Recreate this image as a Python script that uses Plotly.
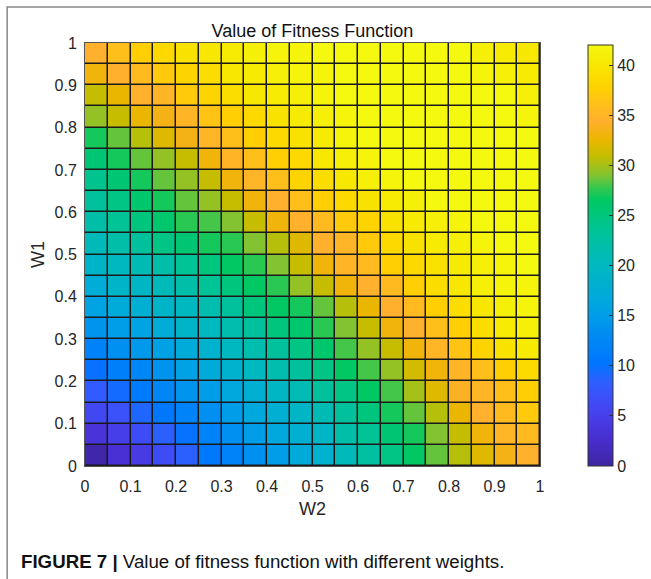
import plotly.graph_objects as go

# W2 (x) and W1 (y) cell centres: 20 x 20 grid, 0.05 step
w2 = [round(0.025 + 0.05 * i, 3) for i in range(20)]
w1 = [round(0.025 + 0.05 * i, 3) for i in range(20)]

# fitness values, rows = W1 from 0 (bottom) to 0.95 (top), cols = W2 from 0 to 0.95
r00 = [0.5, 3, 4.5, 6.5, 8.5, 10.5, 12, 13.5, 15, 17, 18.5, 20.5, 22.5, 24.5, 26.5, 28.5, 30.5, 32, 33.5, 34.5]
r01 = [3.5, 5, 6.5, 8.5, 10, 12, 13.5, 15, 16.5, 18, 19.5, 22, 23.5, 25.5, 27, 29, 31, 33, 35, 35.5]
r02 = [6, 7, 9, 10.5, 12, 13.5, 15, 16.5, 18, 19.5, 21, 23, 25, 27, 28.5, 30.5, 32.5, 34.5, 35.5, 37]
r03 = [8, 9.5, 11, 12.5, 14, 15, 16.5, 18, 19.5, 21, 23, 24.5, 26.5, 28, 30, 32, 34, 35, 36, 37.5]
r04 = [10, 11.5, 12.5, 14, 15.5, 17, 18.5, 20, 21.5, 23, 24.5, 26.5, 28, 29.5, 31.5, 33, 35, 36, 37.5, 38.5]
r05 = [12, 13.5, 14.5, 15.5, 17, 18.5, 20, 21.5, 23, 24.5, 26, 28, 29.5, 31, 33, 35, 36.5, 38, 39.5, 40.5]
r06 = [14, 15, 16, 17.5, 19, 20, 21.5, 23, 25, 26, 27.5, 29, 31, 33, 34.5, 36, 37.5, 39, 40.5, 41]
r07 = [16, 17, 18, 19, 20, 21.5, 23, 25, 26.5, 27, 28.5, 30.5, 32.5, 34.5, 35.5, 37.5, 39, 40, 41, 41.5]
r08 = [17.5, 19, 19.5, 20.5, 22, 23.5, 25, 26.5, 27.5, 29.5, 31, 33, 34.5, 35.5, 37.5, 39, 40, 41, 41.5, 41.5]
r09 = [19, 20, 21, 22, 23.5, 25, 26.5, 27.5, 29, 31, 33, 35, 35.5, 37.5, 38.5, 39.5, 40.5, 41, 41.5, 42]
r10 = [20.5, 22, 23, 24.5, 25.5, 27, 27.5, 29, 30.5, 32, 34.5, 35, 37, 38.5, 39.5, 40.5, 41, 41.5, 42, 42]
r11 = [22, 23.5, 25, 26, 27.5, 28, 29, 31, 33, 34.5, 35.5, 37, 38, 39.5, 40.5, 41, 41.5, 42, 42, 42]
r12 = [23, 24.5, 26, 27, 28.5, 29.5, 31, 33, 34.5, 36, 37.5, 38.5, 39.5, 40.5, 41, 42, 42, 42, 42, 42]
r13 = [24, 25.5, 27, 28.5, 29.5, 31, 33, 35, 36, 38, 39, 40, 41, 41.5, 42, 42, 42, 42, 42, 42]
r14 = [25.5, 27, 28.5, 29.5, 31, 33, 35, 36, 37.5, 38.5, 40, 41, 41.5, 42, 42, 42, 42, 42, 42, 42]
r15 = [27, 28.5, 30.5, 32, 33.5, 35, 36, 37.5, 38.5, 39.5, 40.5, 41.5, 42, 42, 42, 42, 42, 42, 42, 42]
r16 = [29.5, 31, 32.5, 33.5, 35, 36.5, 37.5, 38.5, 39.5, 40.5, 41, 41.5, 42, 42, 42, 42, 42, 42, 42, 41.5]
r17 = [31, 32.5, 34.5, 35, 37, 38, 39, 40, 40.5, 41, 41.5, 42, 42, 42, 42, 42, 42, 42, 42, 41]
r18 = [33, 34.5, 35.5, 37, 38, 39, 40, 40.5, 41, 41.5, 41.5, 42, 42, 42, 42, 42, 42, 41.5, 41, 40.5]
r19 = [34.5, 36, 37.5, 38.5, 39.5, 40, 40.5, 41, 41.5, 41.5, 42, 42, 42, 42, 42, 42, 42, 41, 40.5, 40]
fitness = [r00, r01, r02, r03, r04, r05, r06, r07, r08, r09,
           r10, r11, r12, r13, r14, r15, r16, r17, r18, r19]

tick_vals = [0, 0.1, 0.2, 0.3, 0.4, 0.5, 0.6, 0.7, 0.8, 0.9, 1]
tick_text = ["0", "0.1", "0.2", "0.3", "0.4", "0.5", "0.6", "0.7", "0.8", "0.9", "1"]
cbar_ticks = [0, 5, 10, 15, 20, 25, 30, 35, 40]

parula_like = [
    [0.00, "rgb(62,38,160)"],
    [0.06, "rgb(72,45,205)"],
    [0.11, "rgb(72,60,230)"],
    [0.165, "rgb(60,80,250)"],
    [0.20, "rgb(45,95,255)"],
    [0.245, "rgb(0,118,255)"],
    [0.30, "rgb(0,135,245)"],
    [0.35, "rgb(0,155,235)"],
    [0.40, "rgb(0,170,220)"],
    [0.48, "rgb(0,185,190)"],
    [0.56, "rgb(0,195,150)"],
    [0.63, "rgb(0,200,100)"],
    [0.66, "rgb(50,200,80)"],
    [0.69, "rgb(130,195,50)"],
    [0.735, "rgb(195,190,0)"],
    [0.775, "rgb(235,182,0)"],
    [0.82, "rgb(255,175,45)"],
    [0.86, "rgb(255,192,25)"],
    [0.90, "rgb(255,210,0)"],
    [0.95, "rgb(248,230,0)"],
    [1.00, "rgb(245,248,15)"],
]

W, H = 651, 579
L, R, T, B = 85, 541, 43, 466
pw, ph = R - L, B - T

def px(x):
    return (x - L) / pw

def py(y):
    return (B - y) / ph

txt = "#262626"
font = "Liberation Sans, Arial, sans-serif"

fig = go.Figure(go.Heatmap(
    x=w2, y=w1, z=fitness,
    zmin=0, zmax=42,
    colorscale=parula_like,
    xgap=1.5, ygap=1.5,
    colorbar=dict(
        x=px(588), xanchor="left", xpad=0,
        y=0, yanchor="bottom", ypad=0,
        len=(B - 45) / ph, lenmode="fraction",
        thickness=25, thicknessmode="pixels",
        outlinewidth=1, outlinecolor="#333333",
        tickvals=cbar_ticks, ticks="inside", ticklen=4,
        tickcolor="#333333", tickfont=dict(size=16, color=txt, family=font),
    ),
))

fig.update_layout(
    width=W, height=H,
    margin=dict(l=L, r=W - R, t=T, b=H - B),
    paper_bgcolor="white",
    plot_bgcolor="#1a1a1a",
    font=dict(family=font, color=txt, size=16),
    title=dict(text="Value of Fitness Function", x=px((L + R) / 2), xref="paper",
               xanchor="center", y=1 - 31 / H, yref="container", yanchor="middle",
               font=dict(size=18, color="#111111", family=font)),
    xaxis=dict(range=[0, 1], tickvals=tick_vals, ticktext=tick_text, showgrid=False,
               zeroline=False, showline=True, linecolor="#555555", linewidth=1, mirror=True,
               ticks="", ticklabelstandoff=6, tickfont=dict(size=16, color=txt)),
    yaxis=dict(range=[0, 1], tickvals=tick_vals, ticktext=tick_text, showgrid=False,
               zeroline=False, showline=True, linecolor="#555555", linewidth=1, mirror=True,
               ticks="", ticklabelstandoff=4, tickfont=dict(size=16, color=txt)),
    annotations=[
        dict(text="W2", x=px(313), y=py(509), xref="paper", yref="paper",
             showarrow=False, xanchor="center", yanchor="middle",
             font=dict(size=18, color=txt, family=font)),
        dict(text="W1", x=px(38), y=py(255), xref="paper", yref="paper",
             showarrow=False, xanchor="center", yanchor="middle", textangle=-90,
             font=dict(size=18, color=txt, family=font)),
        dict(text="<b>FIGURE 7 |</b> Value of fitness function with different weights.",
             x=px(19), y=py(561), xref="paper", yref="paper",
             showarrow=False, xanchor="left", yanchor="middle",
             font=dict(size=18.7, color="#111111", family=font)),
    ],
    shapes=[
        dict(type="rect", xref="paper", yref="paper",
             x0=px(7), y0=py(600), x1=px(700), y1=py(7),
             line=dict(color="#888888", width=1.5), fillcolor="rgba(0,0,0,0)", layer="below"),
    ],
)

fig.write_html("out.html", config={"displayModeBar": False},
               post_script="document.body.style.margin='0px';")
